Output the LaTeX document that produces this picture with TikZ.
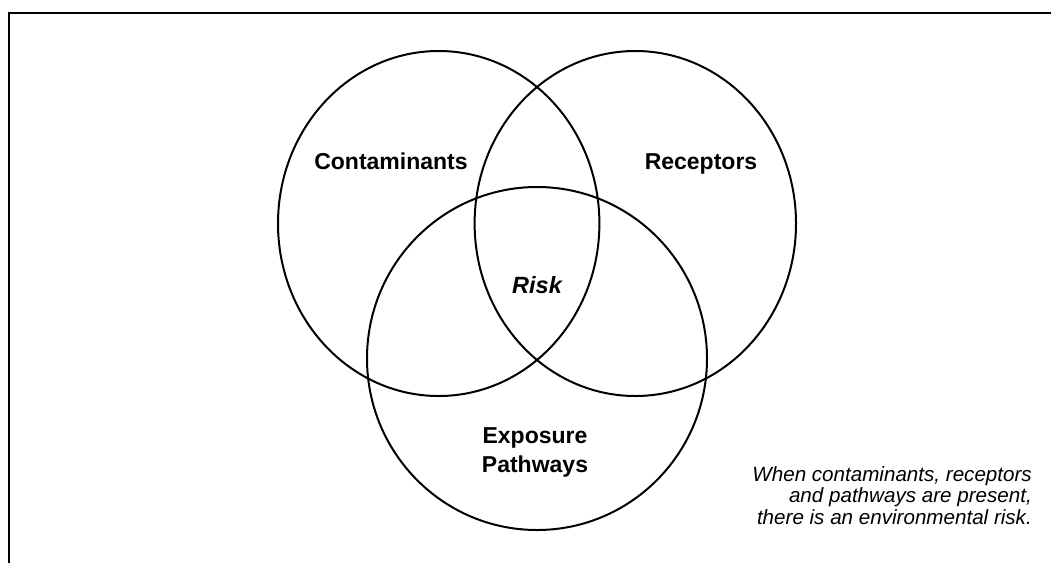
\documentclass[tikz,border=0pt]{standalone}
\usepackage{fontspec}
\setmainfont{Liberation Sans}
\usetikzlibrary{shapes.geometric}
\begin{document}
\begin{tikzpicture}[x=1pt,y=-1pt,
  setcircle/.style={draw=black,line width=2pt,ellipse,inner sep=0pt},
  biglabel/.style={font=\fontsize{23}{29}\selectfont\bfseries,inner sep=0pt,anchor=base},
  notetext/.style={font=\fontsize{20.6}{21.5}\selectfont\itshape,inner sep=0pt,align=right,anchor=base east}]
\useasboundingbox (0,0) rectangle (1051,563);
% frame
\draw[line width=2.6pt] (9,563) -- (9,13) -- (1051,13);
% sets
\node[setcircle,minimum width=321.4pt,minimum height=345pt] (cont) at (438.7,223.5) {};
\node[setcircle,minimum width=321.4pt,minimum height=345pt] (recp) at (635.3,223.5) {};
\node[setcircle,minimum width=340pt,minimum height=343pt] (expo) at (537,358.5) {};
% labels
\node[biglabel] (lcont) at (391,169) {Contaminants};
\node[biglabel] (lrecp) at (701,169) {Receptors};
\node[biglabel,font=\fontsize{23.5}{29}\selectfont\bfseries\itshape] (lrisk) at (537,293) {Risk};
\node[biglabel,align=center] (lexpo) at (535,472) {Exposure\\Pathways};
\node[notetext] (note) at (1032,524) {When contaminants, receptors\\and pathways are present,\\there is an environmental risk.};
\end{tikzpicture}
\end{document}
